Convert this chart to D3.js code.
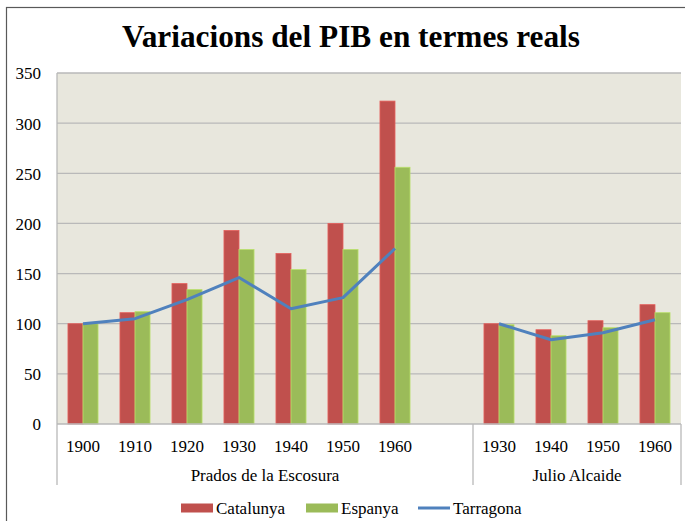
<!DOCTYPE html>
<html>
<head>
<meta charset="utf-8">
<script src="https://cdn.jsdelivr.net/npm/d3@7"></script>
<style>
  body { margin: 0; background: #fff; }
  svg text { font-family: "Liberation Serif", "DejaVu Serif", serif; fill: #000; }
</style>
</head>
<body>
<svg width="685" height="521"></svg>
<script>
// Dades llegides del gràfic
const pradosYears = ["1900", "1910", "1920", "1930", "1940", "1950", "1960"];
const alcaideYears = ["1930", "1940", "1950", "1960"];
const groupNames = ["Prados de la Escosura", "Julio Alcaide"];
const seriesNames = ["Catalunya", "Espanya", "Tarragona"];

const pradosCatalunya = [100, 111, 140, 193, 170, 200, 322];
const pradosEspanya   = [100, 112, 134, 174, 154, 174, 256];
const pradosTarragona = [100, 105, 124, 146, 115, 126, 175];

const alcaideCatalunya = [100, 94, 103, 119];
const alcaideEspanya   = [99, 88, 96, 111];
const alcaideTarragona = [100, 84, 91, 104];

const yTicks = [0, 50, 100, 150, 200, 250, 300, 350];
const colors = ["#c0504d", "#9bbb59", "#4f81bd"];

const serif = "'Liberation Serif', 'DejaVu Serif', serif";

const svg = d3.select("svg"),
      width = +svg.attr("width"),
      height = +svg.attr("height");

// Marc exterior del gràfic
svg.append("rect")
    .attr("x", 6.5).attr("y", 7.5)
    .attr("width", width + 10).attr("height", height + 10)
    .attr("fill", "#fff").attr("stroke", "#595959").attr("stroke-width", 1.2);

// Files: cada categoria ocupa una franja; una franja buida separa els dos grups
const rows = [];
pradosYears.forEach((y, i) => rows.push({key: "P" + y, year: y, group: 0,
    vals: [pradosCatalunya[i], pradosEspanya[i], pradosTarragona[i]]}));
rows.push({key: "gap", year: "", group: 0, vals: null});
alcaideYears.forEach((y, i) => rows.push({key: "A" + y, year: y, group: 1,
    vals: [alcaideCatalunya[i], alcaideEspanya[i], alcaideTarragona[i]]}));

const plot = {left: 57, right: 681, top: 73, bottom: 424};

const x = d3.scaleBand()
    .domain(rows.map(d => d.key))
    .range([plot.left, plot.right]);

const xInner = d3.scaleBand()
    .domain(seriesNames.slice(0, 2))
    .range([0, x.bandwidth()])
    .paddingInner(0)
    .paddingOuter(0.73);

const y = d3.scaleLinear()
    .domain([0, 350])
    .range([plot.bottom, plot.top]);

// Fons de l'àrea de traçat
svg.append("rect")
    .attr("x", plot.left).attr("y", plot.top)
    .attr("width", plot.right - plot.left).attr("height", plot.bottom - plot.top)
    .attr("fill", "#e8e7dd");

// Línies de graella
svg.append("g")
    .selectAll("line")
    .data(yTicks.filter(t => t > 0))
    .enter().append("line")
    .attr("x1", plot.left).attr("x2", plot.right)
    .attr("y1", d => y(d)).attr("y2", d => y(d))
    .attr("stroke", "#b9b9b9").attr("stroke-width", 1.3);

// Eix Y
const yAxis = svg.append("g")
    .attr("transform", `translate(${plot.left},0)`)
    .call(d3.axisLeft(y).tickValues(yTicks).tickSize(0).tickPadding(16));
yAxis.select(".domain").remove();
yAxis.attr("font-family", serif);
yAxis.selectAll("text")
    .style("font-family", serif)
    .style("font-size", "17px")
    .attr("dy", "0.35em");

// Barres
const bars = svg.append("g")
    .selectAll("g")
    .data(rows.filter(d => d.vals))
    .enter().append("g")
    .attr("transform", d => `translate(${x(d.key)},0)`);

bars.selectAll("rect")
    .data(d => d.vals.slice(0, 2).map((v, i) => ({name: seriesNames[i], value: v, i: i})))
    .enter().append("rect")
    .attr("x", d => xInner(d.name))
    .attr("width", xInner.bandwidth())
    .attr("y", d => y(d.value))
    .attr("height", d => y(0) - y(d.value))
    .attr("fill", d => colors[d.i])
    .attr("stroke", d => d3.color(colors[d.i]).brighter(0.5))
    .attr("stroke-width", 0.8);

// Línia Tarragona, un tram per cada grup
const line = d3.line()
    .x(d => x(d.key) + x.bandwidth() / 2)
    .y(d => y(d.vals[2]));

[0, 1].forEach(g => {
    svg.append("path")
        .datum(rows.filter(d => d.vals && d.group === g))
        .attr("d", line)
        .attr("fill", "none")
        .attr("stroke", colors[2])
        .attr("stroke-width", 3)
        .attr("stroke-linejoin", "round");
});

// Eix X
const axisColor = "#b9b9b9";
svg.append("line")
    .attr("x1", plot.left).attr("x2", plot.right)
    .attr("y1", plot.bottom).attr("y2", plot.bottom)
    .attr("stroke", axisColor).attr("stroke-width", 1.5);

const xAxis = svg.append("g")
    .attr("transform", `translate(0,${plot.bottom})`)
    .call(d3.axisBottom(x).tickSize(0).tickPadding(16).tickFormat(k => rows.find(r => r.key === k).year));
xAxis.select(".domain").remove();
xAxis.attr("font-family", serif);
xAxis.selectAll("text")
    .style("font-family", serif)
    .style("font-size", "17px");

// Separadors de grup i etiquetes de grup
const groupBounds = [
    [plot.left, x("gap") + x.bandwidth()],
    [x("A1930"), plot.right]
];
const sepX = [groupBounds[0][0], groupBounds[0][1], groupBounds[1][1]];
svg.append("g")
    .selectAll("line")
    .data(sepX)
    .enter().append("line")
    .attr("x1", d => d).attr("x2", d => d)
    .attr("y1", d => d === plot.left ? plot.top : plot.bottom)
    .attr("y2", 485)
    .attr("stroke", axisColor).attr("stroke-width", 1.3);

svg.append("g")
    .selectAll("text")
    .data(groupNames)
    .enter().append("text")
    .attr("x", (d, i) => (groupBounds[i][0] + groupBounds[i][1]) / 2)
    .attr("y", 481)
    .attr("text-anchor", "middle")
    .style("font-size", "17px")
    .text(d => d);

// Títol
svg.append("text")
    .attr("x", 351).attr("y", 47)
    .attr("text-anchor", "middle")
    .attr("textLength", 458)
    .attr("lengthAdjust", "spacingAndGlyphs")
    .style("font-size", "31px")
    .style("font-weight", "bold")
    .text("Variacions del PIB en termes reals");

// Llegenda
const legendX = [181, 306, 418];
const legend = svg.append("g")
    .selectAll("g")
    .data(seriesNames)
    .enter().append("g")
    .attr("transform", (d, i) => `translate(${legendX[i]},508)`);

legend.filter((d, i) => i < 2).append("rect")
    .attr("x", 0).attr("y", -4.5)
    .attr("width", 32).attr("height", 9)
    .attr("fill", (d, i) => colors[i]);

legend.filter((d, i) => i === 2).append("line")
    .attr("x1", 0).attr("x2", 32)
    .attr("y1", 0).attr("y2", 0)
    .attr("stroke", colors[2]).attr("stroke-width", 3);

legend.append("text")
    .attr("x", 35).attr("y", 0)
    .attr("dy", "0.35em")
    .style("font-size", "17px")
    .text(d => d);
</script>
</body>
</html>
